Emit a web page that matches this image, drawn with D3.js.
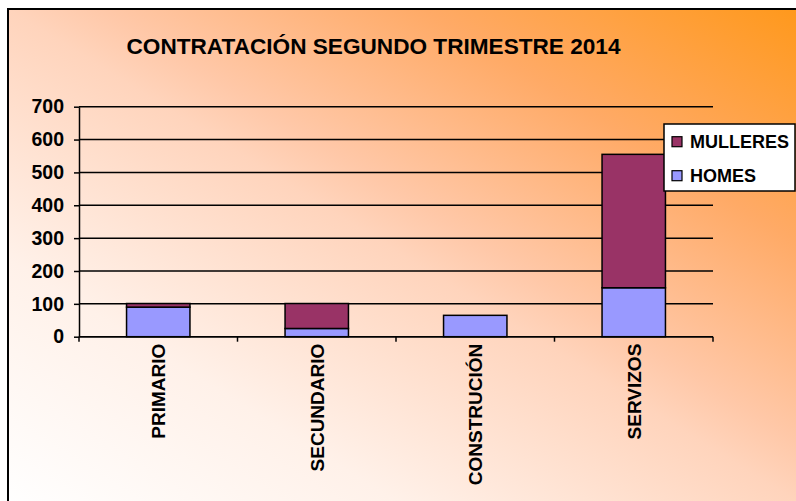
<!DOCTYPE html>
<html>
<head>
<meta charset="utf-8">
<script src="https://cdn.jsdelivr.net/npm/d3@7"></script>
<style>
  html, body { margin: 0; padding: 0; background: #fff; }
  svg text { font-family: "Liberation Sans", Arial, sans-serif; font-weight: bold; fill: #000; }
</style>
</head>
<body>
<div id="chart"></div>
<script>
'use strict';

// chart data
var categories = ["PRIMARIO", "SECUNDARIO", "CONSTRUCIÓN", "SERVIZOS"];
var homes = [90, 25, 65, 149];
var mulleres = [11, 76, 0, 406];
var yTicks = [0, 100, 200, 300, 400, 500, 600, 700];
var seriesNames = ["HOMES", "MULLERES"];
var title = "CONTRATACIÓN SEGUNDO TRIMESTRE 2014";

var width = 796, height = 501;
var colors = { HOMES: "#9999FF", MULLERES: "#993366" };

var svg = d3.select("#chart").append("svg")
  .attr("width", width)
  .attr("height", height);

// background gradient, white at bottom-left to orange at top-right
var grad = svg.append("defs").append("linearGradient")
  .attr("id", "bg")
  .attr("x1", 0).attr("y1", 1)
  .attr("x2", 1).attr("y2", 0);
[[0, "#FFFFFF"], [0.25, "#FFF1E9"], [0.5, "#FFD4BC"], [0.56, "#FFC8A8"],
 [0.76, "#FFAA66"], [1, "#FF981A"]].forEach(function (s) {
  grad.append("stop").attr("offset", s[0]).attr("stop-color", s[1]);
});

svg.append("rect")
  .attr("x", 8).attr("y", 9)
  .attr("width", 800).attr("height", 500)
  .attr("fill", "url(#bg)")
  .attr("stroke", "#000")
  .attr("stroke-width", 2);

svg.append("text")
  .attr("x", 373.5).attr("y", 53.5)
  .attr("text-anchor", "middle")
  .attr("font-size", "21.5px")
  .attr("textLength", 494)
  .attr("lengthAdjust", "spacingAndGlyphs")
  .text(title);

var plot = { left: 79, right: 713, top: 106.7, bottom: 336.7 };

var x = d3.scaleBand()
  .domain(categories)
  .range([plot.left, plot.right])
  .paddingInner(0.6)
  .paddingOuter(0.3);

var y = d3.scaleLinear()
  .domain([0, 700])
  .range([plot.bottom, plot.top]);

// gridlines
svg.append("g").selectAll("line")
  .data(yTicks)
  .enter().append("line")
  .attr("x1", plot.left).attr("x2", plot.right)
  .attr("y1", function (d) { return y(d); })
  .attr("y2", function (d) { return y(d); })
  .attr("stroke", "#000")
  .attr("stroke-width", 1.5);

// y axis
var yAxis = svg.append("g")
  .attr("transform", "translate(" + plot.left + ",0)")
  .call(d3.axisLeft(y).tickValues(yTicks).tickSize(5).tickSizeOuter(0).tickPadding(10));
yAxis.selectAll("path, line").attr("stroke", "#000").attr("stroke-width", 1.5);
yAxis.selectAll("text").attr("font-size", "19.5px").attr("font-family", null).attr("fill", "#000");

// stacked bars
var rows = categories.map(function (c, i) {
  return { cat: c, HOMES: homes[i], MULLERES: mulleres[i] };
});
var stacked = d3.stack().keys(seriesNames)(rows);

svg.append("g").selectAll("g")
  .data(stacked)
  .enter().append("g")
  .attr("fill", function (d) { return colors[d.key]; })
  .selectAll("rect")
  .data(function (d) { return d.filter(function (p) { return p[1] > p[0]; }); })
  .enter().append("rect")
  .attr("x", function (d) { return x(d.data.cat); })
  .attr("width", x.bandwidth())
  .attr("y", function (d) { return y(d[1]); })
  .attr("height", function (d) { return y(d[0]) - y(d[1]); })
  .attr("stroke", "#000")
  .attr("stroke-width", 1.5);

// x axis: line with ticks at band boundaries
var xAxis = svg.append("g");
xAxis.append("line")
  .attr("x1", plot.left).attr("x2", plot.right)
  .attr("y1", plot.bottom).attr("y2", plot.bottom)
  .attr("stroke", "#000").attr("stroke-width", 1.5);
xAxis.selectAll(".tick")
  .data(d3.range(categories.length + 1))
  .enter().append("line")
  .attr("x1", function (i) { return plot.left + i * x.step(); })
  .attr("x2", function (i) { return plot.left + i * x.step(); })
  .attr("y1", plot.bottom).attr("y2", plot.bottom + 5)
  .attr("stroke", "#000").attr("stroke-width", 1.5);
xAxis.selectAll("text")
  .data(categories)
  .enter().append("text")
  .attr("transform", function (d) {
    return "translate(" + (x(d) + x.bandwidth() / 2 + 7) + "," + (plot.bottom + 7) + ") rotate(-90)";
  })
  .attr("text-anchor", "end")
  .attr("font-size", "19px")
  .text(function (d) { return d; });

// legend
var legend = svg.append("g").attr("transform", "translate(664,124)");
legend.append("rect")
  .attr("width", 131).attr("height", 67)
  .attr("fill", "#fff")
  .attr("stroke", "#000").attr("stroke-width", 1.5);
var items = legend.selectAll(".item")
  .data(["MULLERES", "HOMES"])
  .enter().append("g")
  .attr("transform", function (d, i) { return "translate(0," + (17.7 + i * 34) + ")"; });
items.append("rect")
  .attr("x", 8).attr("y", -5)
  .attr("width", 10).attr("height", 10)
  .attr("fill", function (d) { return colors[d]; })
  .attr("stroke", "#000").attr("stroke-width", 1.2);
items.append("text")
  .attr("x", 26).attr("y", 6.5)
  .attr("font-size", "18px")
  .text(function (d) { return d; });
</script>
</body>
</html>
